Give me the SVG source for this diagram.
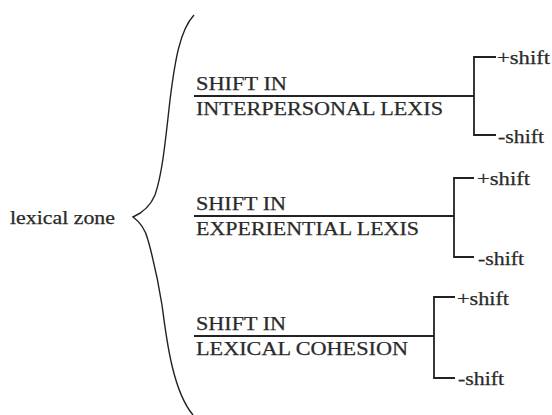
<svg xmlns="http://www.w3.org/2000/svg" width="552" height="415" viewBox="0 0 552 415">
  <style>
    text { font-family: "Liberation Serif", "Times New Roman", serif; font-size: 18.5px; fill: #2a2a2a; stroke: #2a2a2a; stroke-width: 0.25; }
    .head { font-size: 19px; }
    .wire { fill: none; stroke: #222; stroke-width: 1.8; }
    .brace { fill: none; stroke: #222; stroke-width: 1.4; }
  </style>
  <rect width="552" height="415" fill="#fff"/>

  <g id="root">
    <text x="10" y="224" textLength="105" lengthAdjust="spacingAndGlyphs">lexical zone</text>
    <path class="brace" d="M194,15 C180,30 175,60 170,100 C165,145 162,175 155,195 C150,207 142,213 133,217 C140,222 145,228 148,240 C153,258 158,280 162,305 C166,335 172,390 193,415"/>
  </g>

  <g id="connectors">
    <!-- interpersonal -->
    <path class="wire" d="M194,96 H474 M496,57 H474 V135 H496"/>
    <!-- experiential -->
    <path class="wire" d="M194,216 H454 M474,178 H454 V257 H474"/>
    <!-- cohesion -->
    <path class="wire" d="M194,336 H434 M455,297 H434 V378 H455"/>
  </g>

  <g id="interpersonal">
    <text class="head" x="196" y="90" textLength="91" lengthAdjust="spacingAndGlyphs">SHIFT IN</text>
    <text class="head" x="196" y="115" textLength="247" lengthAdjust="spacingAndGlyphs">INTERPERSONAL LEXIS</text>
  </g>
  <g id="interpersonal-plus"><text x="497" y="64" textLength="53" lengthAdjust="spacingAndGlyphs">+shift</text></g>
  <g id="interpersonal-minus"><text x="498" y="143" textLength="46" lengthAdjust="spacingAndGlyphs">-shift</text></g>

  <g id="experiential">
    <text class="head" x="196" y="210" textLength="90" lengthAdjust="spacingAndGlyphs">SHIFT IN</text>
    <text class="head" x="196" y="235" textLength="223" lengthAdjust="spacingAndGlyphs">EXPERIENTIAL LEXIS</text>
  </g>
  <g id="experiential-plus"><text x="477" y="185" textLength="53" lengthAdjust="spacingAndGlyphs">+shift</text></g>
  <g id="experiential-minus"><text x="478" y="265" textLength="46" lengthAdjust="spacingAndGlyphs">-shift</text></g>

  <g id="cohesion">
    <text class="head" x="196" y="330" textLength="90" lengthAdjust="spacingAndGlyphs">SHIFT IN</text>
    <text class="head" x="196" y="355" textLength="212" lengthAdjust="spacingAndGlyphs">LEXICAL COHESION</text>
  </g>
  <g id="cohesion-plus"><text x="457" y="305" textLength="52" lengthAdjust="spacingAndGlyphs">+shift</text></g>
  <g id="cohesion-minus"><text x="458" y="385" textLength="46" lengthAdjust="spacingAndGlyphs">-shift</text></g>
</svg>
